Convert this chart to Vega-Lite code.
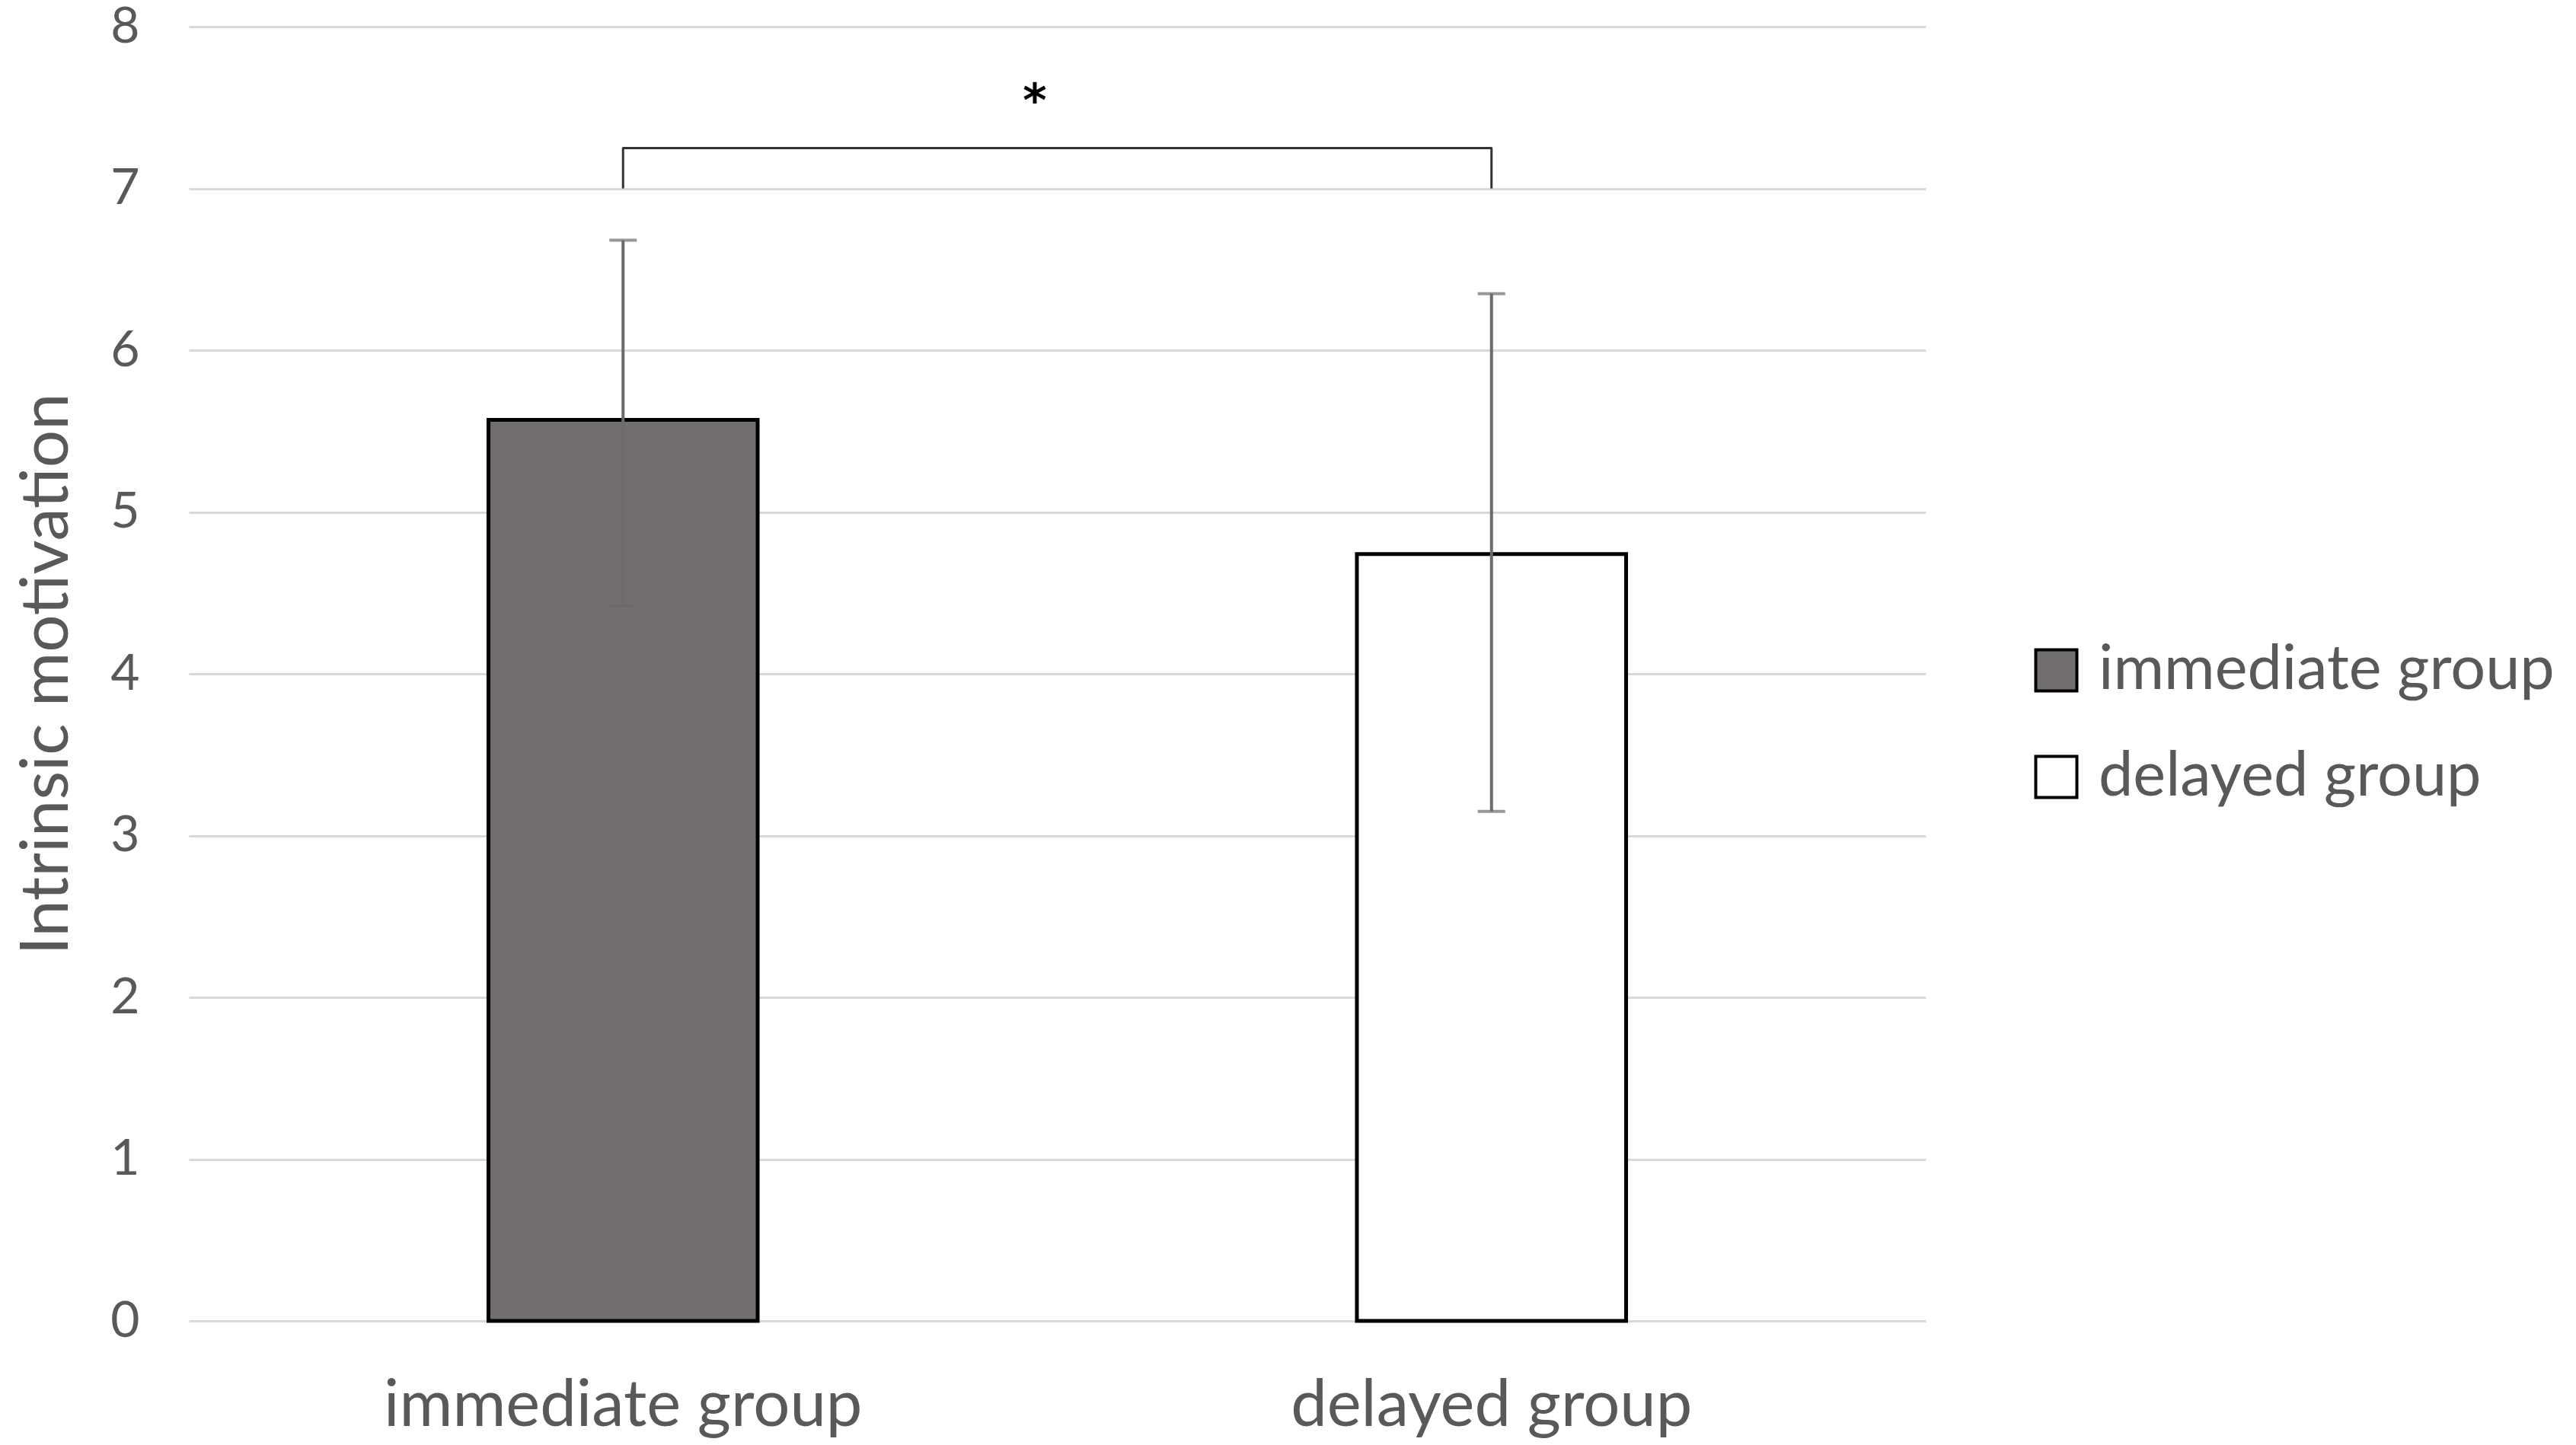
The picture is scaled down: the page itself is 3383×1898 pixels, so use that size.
{
  "$schema": "https://vega.github.io/schema/vega-lite/v6.json",
  "width": 2281,
  "height": 1700,
  "autosize": {"type": "none"},
  "padding": {"left": 248, "top": 35, "right": 854, "bottom": 163},
  "background": "white",
  "config": {
    "view": {"stroke": null},
    "font": "Lato",
    "axis": {"labelFont": "Lato", "titleFont": "Lato", "labelColor": "#595959", "titleColor": "#595959", "titleFontWeight": "normal"},
    "legend": {"labelFont": "Lato", "labelColor": "#595959"}
  },
  "datasets": {
    "bars": [
      {"group": "immediate group", "mean": 5.57, "lo": 4.42, "hi": 6.68},
      {"group": "delayed group", "mean": 4.74, "lo": 3.15, "hi": 6.35}
    ],
    "bracket": [
      {"group": "immediate group", "y": 7.0, "k": 1},
      {"group": "immediate group", "y": 7.25, "k": 2},
      {"group": "delayed group", "y": 7.25, "k": 3},
      {"group": "delayed group", "y": 7.0, "k": 4}
    ],
    "star": [{"pos": 0.487, "y": 7.53, "label": "*"}]
  },
  "layer": [
    {
      "layer": [
        {
          "data": {"name": "bars"},
          "mark": {"type": "bar", "width": {"band": 0.31}, "stroke": "black", "strokeWidth": 5},
          "encoding": {
            "x": {
              "field": "group", "type": "nominal", "sort": ["immediate group", "delayed group"],
              "scale": {"paddingInner": 0, "paddingOuter": 0},
              "axis": {"title": null, "labelAngle": 0, "domain": false, "ticks": false, "labelFontSize": 85, "labelPadding": 70, "labelLimit": 0}
            },
            "y": {
              "field": "mean", "type": "quantitative",
              "scale": {"domain": [0, 8], "nice": false},
              "axis": {
                "title": "Intrinsic motivation", "titleFontSize": 87, "titlePadding": 38,
                "values": [0, 1, 2, 3, 4, 5, 6, 7, 8], "format": "d",
                "domain": false, "ticks": false, "labelFontSize": 66, "labelPadding": 65,
                "gridColor": "#d9d9d9", "gridWidth": 3
              }
            },
            "fill": {
              "field": "group", "type": "nominal",
              "scale": {"domain": ["immediate group", "delayed group"], "range": ["#736e6e", "#ffffff"]},
              "legend": {
                "title": null, "orient": "none", "legendX": 2412, "legendY": 805,
                "symbolType": "square", "symbolSize": 2916, "symbolStrokeColor": "black", "symbolStrokeWidth": 4,
                "symbolOpacity": 1,
                "labelFontSize": 81, "labelOffset": 15, "rowPadding": 58, "padding": 0, "labelLimit": 0
              }
            }
          }
        },
        {
          "data": {"name": "bars"},
          "mark": {"type": "rule", "color": "#6b6b6b", "strokeWidth": 4},
          "encoding": {
            "x": {"field": "group", "type": "nominal", "sort": ["immediate group", "delayed group"]},
            "y": {"field": "lo", "type": "quantitative"},
            "y2": {"field": "hi"}
          }
        },
        {
          "data": {"name": "bars"},
          "mark": {"type": "tick", "color": "#6b6b6b", "size": 36, "thickness": 4},
          "encoding": {
            "x": {"field": "group", "type": "nominal", "sort": ["immediate group", "delayed group"]},
            "y": {"field": "lo", "type": "quantitative"}
          }
        },
        {
          "data": {"name": "bars"},
          "mark": {"type": "tick", "color": "#6b6b6b", "size": 36, "thickness": 4},
          "encoding": {
            "x": {"field": "group", "type": "nominal", "sort": ["immediate group", "delayed group"]},
            "y": {"field": "hi", "type": "quantitative"}
          }
        },
        {
          "data": {"name": "bracket"},
          "mark": {"type": "line", "color": "#333333", "strokeWidth": 3, "strokeJoin": "round"},
          "encoding": {
            "x": {"field": "group", "type": "nominal", "sort": ["immediate group", "delayed group"]},
            "y": {"field": "y", "type": "quantitative"},
            "order": {"field": "k", "type": "quantitative"}
          }
        }
      ]
    },
    {
      "data": {"name": "star"},
      "mark": {"type": "text", "color": "black", "fontSize": 60, "font": "DejaVu Sans", "fontWeight": "bold", "baseline": "middle"},
      "encoding": {
        "x": {"field": "pos", "type": "quantitative", "scale": {"domain": [0, 1]}, "axis": null},
        "y": {"field": "y", "type": "quantitative"},
        "text": {"field": "label"}
      }
    }
  ],
  "resolve": {"scale": {"x": "independent"}}
}
